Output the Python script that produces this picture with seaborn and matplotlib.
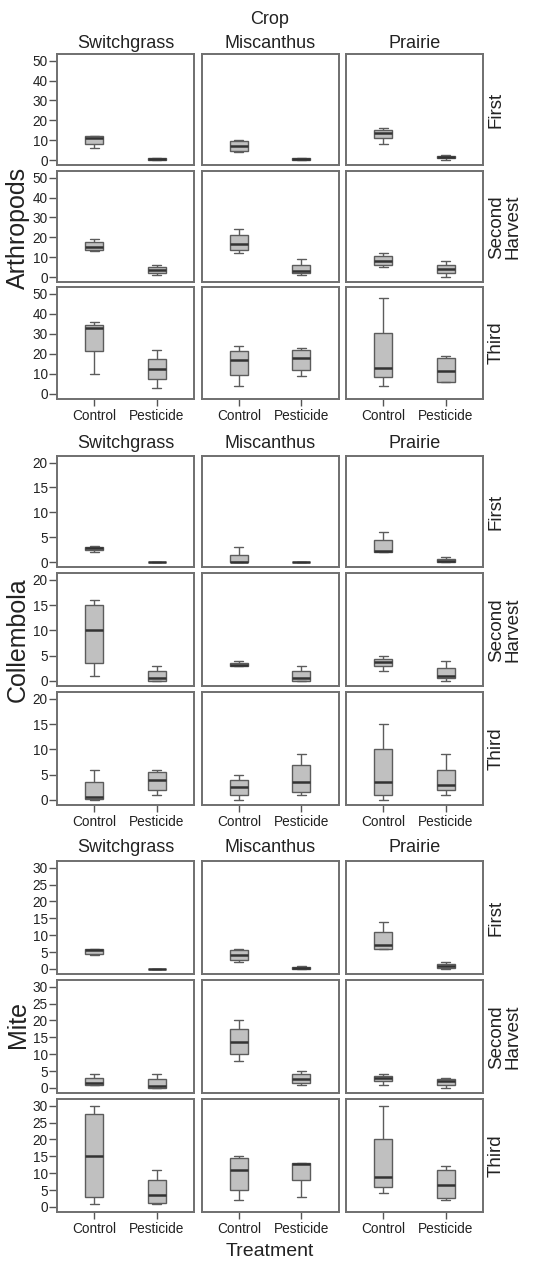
import numpy as np
import pandas as pd
import matplotlib
matplotlib.use("Agg")
import matplotlib.pyplot as plt
import seaborn as sns

sns.set_style("white")
plt.rcParams["font.family"] = ["Liberation Sans", "DejaVu Sans"]

groups = ["Arthropods", "Collembola", "Mite"]
harvests = ["First", "Second\nHarvest", "Third"]
crops = ["Switchgrass", "Miscanthus", "Prairie"]
treatments = ["Control", "Pesticide"]

# five-number summaries [min, q1, median, q3, max]; rows = harvest, cols = crop
arthropods_control = [
    [[6, 8, 11, 12, 12], [4, 4.5, 7, 9.5, 10], [8, 11, 13.5, 15, 16]],
    [[13, 13.5, 15, 17.5, 19], [12, 13.5, 16.5, 21, 24], [5, 6, 8, 10.5, 12]],
    [[10, 21.5, 33, 34.5, 36], [4, 9.5, 17, 21.5, 24], [4, 8.5, 13, 30.5, 48]],
]
arthropods_pesticide = [
    [[0, 0, 0.3, 0.8, 1], [0, 0, 0.3, 0.8, 1], [0, 0.8, 1.5, 2, 2.5]],
    [[1, 2, 3.5, 5, 6], [1, 2, 3, 6, 9], [0, 2, 4, 6, 8]],
    [[3, 7.5, 12.5, 17.5, 22], [9, 12, 18, 22, 23], [6, 6, 11.5, 18, 19]],
]
collembola_control = [
    [[2, 2.5, 2.8, 3, 3.2], [0, 0, 0, 1.5, 3], [2, 2, 2.3, 4.5, 6]],
    [[1, 3.5, 10, 15, 16], [3, 3, 3.2, 3.5, 4], [2, 3, 3.8, 4.3, 5]],
    [[0, 0.2, 0.5, 3.5, 6], [0, 1, 2.5, 4, 5], [0, 1, 3.5, 10, 15]],
]
collembola_pesticide = [
    [[0, 0, 0, 0, 0], [0, 0, 0, 0, 0], [0, 0, 0.3, 0.7, 1]],
    [[0, 0, 0.5, 2, 3], [0, 0, 0.5, 2, 3], [0, 0.5, 1, 2.5, 4]],
    [[1, 2, 4, 5.5, 6], [1, 1.5, 3.5, 7, 9], [1, 2, 3, 6, 9]],
]
mite_control = [
    [[4, 4.5, 5.5, 6, 6], [2, 2.5, 4, 5.5, 6], [6, 6, 7, 11, 14]],
    [[1, 1, 1.5, 3, 4], [8, 10, 13.5, 17.5, 20], [1, 2, 3, 3.5, 4]],
    [[1, 3, 15, 27.5, 30], [2, 5, 11, 14.5, 15], [4, 6, 9, 20, 30]],
]
mite_pesticide = [
    [[0, 0, 0, 0, 0], [0, 0, 0.3, 0.7, 1], [0, 0.3, 0.8, 1.5, 2]],
    [[0, 0, 0.5, 2.5, 4], [1, 1.5, 2.5, 4, 5], [0, 1, 2, 2.5, 3]],
    [[1, 1.3, 3.5, 8, 11], [3, 8, 12.8, 13, 13], [2, 2.5, 6.5, 11, 12]],
]
y_ticks = {
    "Arthropods": [0, 10, 20, 30, 40, 50],
    "Collembola": [0, 5, 10, 15, 20],
    "Mite": [0, 5, 10, 15, 20, 25, 30],
}

summaries = {
    "Arthropods": (arthropods_control, arthropods_pesticide),
    "Collembola": (collembola_control, collembola_pesticide),
    "Mite": (mite_control, mite_pesticide),
}
records = []
for g in groups:
    for t_i, t in enumerate(treatments):
        arr = summaries[g][t_i]
        for h_i, h in enumerate(harvests):
            for c_i, c in enumerate(crops):
                for v in arr[h_i][c_i]:
                    records.append(dict(group=g, harvest=h, crop=c, treatment=t, value=v))
df = pd.DataFrame(records)

W, H = 554, 1263
fig = plt.figure(figsize=(W / 100, H / 100), dpi=100)

col_x = [(57, 194), (201.5, 338.5), (346, 483)]
row_y = {
    "Arthropods": [(54, 165), (171, 282), (287, 399)],
    "Collembola": [(456, 567), (573, 686), (692, 805)],
    "Mite": [(861, 974), (980, 1093), (1099, 1212)],
}
col_title_y = {"Arthropods": 43, "Collembola": 443, "Mite": 847}
group_label_y = {"Arthropods": 228, "Collembola": 640, "Mite": 1025}

frame_col = "#6f6f6f"
tick_col = "#555555"
text_col = "#222222"

for g in groups:
    ticks = y_ticks[g]
    R = ticks[-1]
    total = R / (1 - 0.105)
    ylim = (-0.045 * total, R + 0.06 * total)
    for h_i, h in enumerate(harvests):
        y0, y1 = row_y[g][h_i]
        for c_i, c in enumerate(crops):
            x0, x1 = col_x[c_i]
            ax = fig.add_axes([x0 / W, 1 - y1 / H, (x1 - x0) / W, (y1 - y0) / H])
            sub = df[(df.group == g) & (df.harvest == h) & (df.crop == c)]
            sns.boxplot(data=sub, x="treatment", y="value", order=treatments,
                        whis=(0, 100), width=0.29, color="#c0c0c0", saturation=1,
                        linecolor="#5c5c5c", linewidth=1.0, fliersize=0,
                        medianprops=dict(color="#333333", linewidth=1.8), ax=ax)
            ax.set_xlim(-0.6, 1.6)
            ax.set_ylim(*ylim)
            ax.set_xlabel("")
            ax.set_ylabel("")
            for s in ax.spines.values():
                s.set_visible(True)
                s.set_color(frame_col)
                s.set_linewidth(1.4)
            ax.tick_params(axis="both", colors=tick_col, labelcolor=text_col,
                           labelsize=9.8, width=1.0)
            ax.tick_params(axis="y", length=5.5, pad=1.2, left=True)
            ax.tick_params(axis="x", length=5, pad=2.5, bottom=True)
            ax.set_yticks(ticks)
            if c_i == 0:
                ax.set_yticklabels([str(t) for t in ticks])
            else:
                ax.set_yticklabels([])
                ax.tick_params(axis="y", left=False)
            if h_i == 2:
                ax.set_xticks([0, 1])
                ax.set_xticklabels(treatments)
            else:
                ax.set_xticks([])
            if c_i == 2:
                ax.text(1 + 5 / (x1 - x0), 0.5, h, rotation=90, ha="left", va="center",
                        transform=ax.transAxes, fontsize=13.5, color=text_col,
                        linespacing=0.95)
            if h_i == 0:
                fig.text((x0 + x1) / 2 / W, 1 - col_title_y[g] / H, c, ha="center",
                         va="center", fontsize=13, color=text_col)
    fig.text(18 / W, 1 - group_label_y[g] / H, g, rotation=90, ha="center",
             va="center", fontsize=18, color=text_col)

fig.text(270 / W, 1 - 19 / H, "Crop", ha="center", va="center", fontsize=13, color=text_col)
fig.text(270 / W, 1 - 1252 / H, "Treatment", ha="center", va="center", fontsize=14,
         color=text_col)

fig.savefig("out.png", dpi=100, facecolor="white")
